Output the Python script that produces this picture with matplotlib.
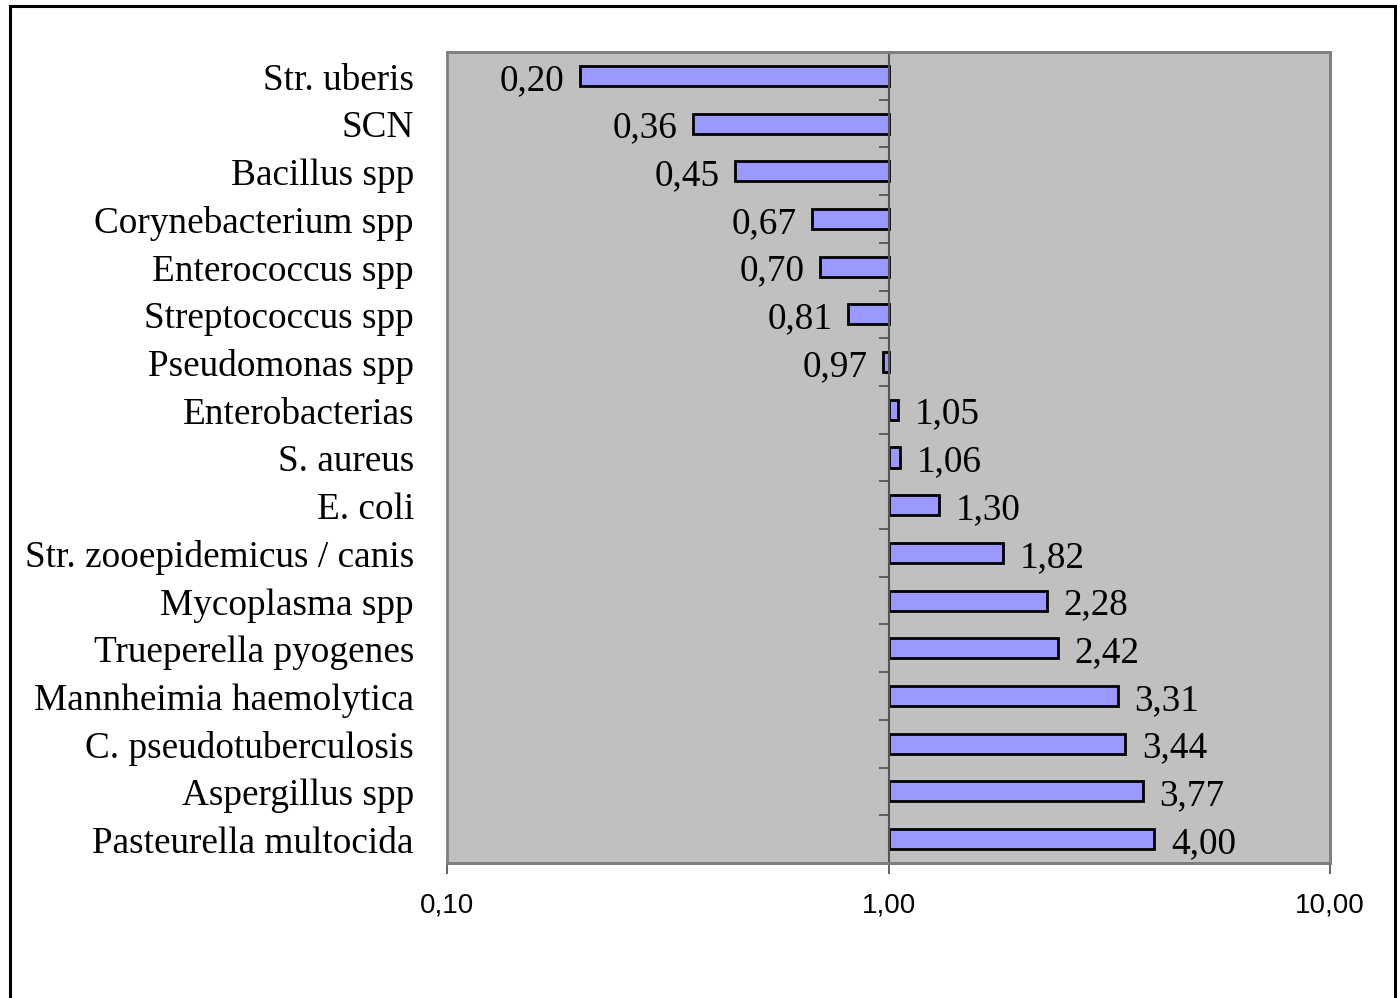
import numpy as np
import matplotlib.pyplot as plt
from matplotlib.patches import Rectangle
from matplotlib.transforms import blended_transform_factory

categories = [
    "Str. uberis", "SCN", "Bacillus spp", "Corynebacterium spp",
    "Enterococcus spp", "Streptococcus spp", "Pseudomonas spp",
    "Enterobacterias", "S. aureus", "E. coli",
    "Str. zooepidemicus / canis", "Mycoplasma spp", "Trueperella pyogenes",
    "Mannheimia haemolytica", "C. pseudotuberculosis", "Aspergillus spp",
    "Pasteurella multocida",
]
values = [0.20, 0.36, 0.45, 0.67, 0.70, 0.81, 0.97, 1.05, 1.06, 1.30,
          1.82, 2.28, 2.42, 3.31, 3.44, 3.77, 4.00]
xticks = [0.1, 1.0, 10.0]

serif = ["Liberation Serif", "DejaVu Serif"]
sans = ["Liberation Sans", "DejaVu Sans"]
FS = 26.8

fig = plt.figure(figsize=(13.97, 9.98), dpi=100)
ax = fig.add_axes([447 / 1397, 1 - 863 / 998, (1330 - 447) / 1397, (863 - 52) / 998])
ax.set_facecolor("#c0c0c0")

y = np.arange(len(categories))
vals = np.array(values)
base = 1.0
ax.barh(y, vals - base, left=base, height=0.42, color="#9999ff",
        edgecolor="black", linewidth=2, zorder=3)

ax.set_xscale("log")
ax.set_xlim(0.1, 10)
ax.set_ylim(len(categories) - 0.5, -0.5)

# value labels (baseline placed a bit below the bar centre, like Excel)
for yi, v in zip(y, vals):
    txt = f"{v:.2f}".replace(".", ",")
    if v < base:
        ax.annotate(txt, (v, yi), xytext=(-11, -10), textcoords="offset points",
                    ha="right", va="baseline", fontsize=FS, family=serif)
    else:
        ax.annotate(txt, (v, yi), xytext=(12, -10), textcoords="offset points",
                    ha="left", va="baseline", fontsize=FS, family=serif)

# category labels at the left edge of the plot area
tr = blended_transform_factory(ax.transAxes, ax.transData)
for yi, name in zip(y, categories):
    ax.annotate(name, (-33 / 883, yi), xycoords=tr, xytext=(0, -10),
                textcoords="offset points", ha="right", va="baseline",
                fontsize=FS, family=serif, annotation_clip=False)

# vertical axis crossing at 1
ax.spines["left"].set_position(("data", 1.0))
ax.spines["left"].set_color("#555555")
ax.spines["left"].set_linewidth(1.5)
ax.spines["left"].set_zorder(4)
ax.set_yticks(np.arange(-0.5, len(categories)))
ax.set_yticklabels([])
ax.tick_params(axis="y", direction="out", length=7, width=1.3, color="#555555")

for s in ["top", "right"]:
    ax.spines[s].set_color("#808080")
    ax.spines[s].set_linewidth(2)
ax.spines["bottom"].set_color("#555555")
ax.spines["bottom"].set_linewidth(2)
ax.add_patch(Rectangle((0, 0), 1, 1, transform=ax.transAxes, fill=False,
                       ec="#808080", lw=2, zorder=5, clip_on=False))

ax.set_xticks(xticks)
ax.set_xticklabels([f"{t:.2f}".replace(".", ",") for t in xticks],
                   family=sans, fontsize=20)
ax.xaxis.set_minor_locator(plt.NullLocator())
ax.tick_params(axis="x", direction="out", length=8, width=1.3, color="#555555",
               pad=13)

# outer chart border
fig.patches.append(Rectangle((9.5 / 1397, -0.05), (1394.5 - 9.5) / 1397, 1.05 - 5.5 / 998,
                             transform=fig.transFigure, fill=False,
                             ec="black", lw=2.2))

fig.savefig("out.png", dpi=100)
